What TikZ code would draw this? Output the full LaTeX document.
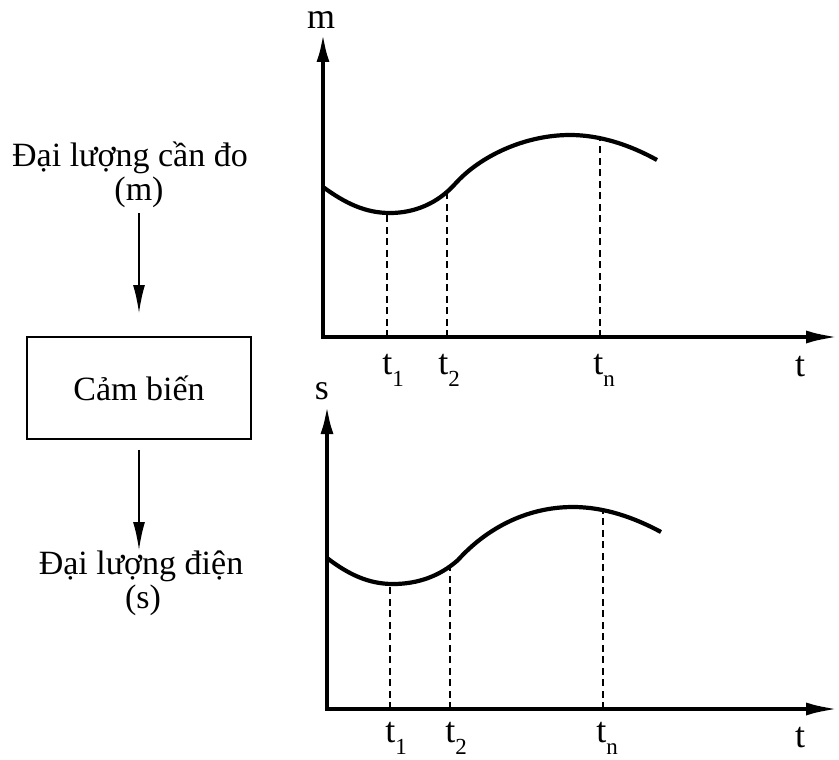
\documentclass[tikz,border=0pt]{standalone}
\usepackage{fontspec}
\setmainfont{Liberation Serif}
\usetikzlibrary{arrows.meta}
\newcommand{\tsub}[1]{t\raisebox{-0.34em}{\fontsize{23}{23}\selectfont #1}}
\begin{document}
\begin{tikzpicture}[x=1pt,y=-1pt,
  lbl/.style={inner sep=0pt,font=\fontsize{34}{40}\selectfont},
  tlbl/.style={inner sep=0pt,font=\fontsize{36}{40}\selectfont},
  axis/.style={line width=4.2pt,{Latex[length=29pt,width=13pt]}-{Latex[length=33pt,width=13pt]}},
  curve/.style={line width=4.2pt},
  guide/.style={line width=1.8pt,dash pattern=on 7pt off 4.5pt},
  flow/.style={line width=1.7pt,-{Latex[length=28pt,width=12pt]}},
  boxnode/.style={draw,line width=1.8pt,minimum width=224pt,minimum height=102pt,inner sep=0pt,font=\fontsize{34}{40}\selectfont}]
\useasboundingbox (0,0) rectangle (839,760);
% left side
\node[lbl] (in1) at (130,158) {Đại lượng cần đo};
\node[lbl] (in2) at (139,192) {(m)};
\node[boxnode] (box) at (139,388) {Cảm biến\hspace{18pt}};
\node[lbl] (out1) at (141,566) {Đại lượng điện};
\node[lbl] (out2) at (143,600) {(s)};
\coordinate (a1s) at (139,213);
\coordinate (a1e) at (139,313);
\coordinate (a2s) at (139,450);
\coordinate (a2e) at (139,550);
\draw[flow] (a1s) -- (a1e);
\draw[flow] (a2s) -- (a2e);
% top graph
\coordinate (o1) at (323,337);
\coordinate (ytop1) at (323,33);
\coordinate (xend1) at (839,337);
\draw[axis] (ytop1) -- (o1) -- (xend1);
\node[tlbl] (m) at (321,20) {m};
\draw[curve] (323,187) .. controls (345,203) and (365,213) .. (390,213)
  .. controls (415,213) and (438,203) .. (455,184)
  .. controls (480,156) and (525,135) .. (570,135)
  .. controls (600,135) and (630,145) .. (657,160);
\draw[guide] (387,337) -- (387,213);
\draw[guide] (447,337) -- (447,192);
\draw[guide] (600,337) -- (600,138);
\node[tlbl] (t11) at (393,370) {\tsub{1}};
\node[tlbl] (t12) at (449,370) {\tsub{2}};
\node[tlbl] (t1n) at (604,370) {\tsub{n}};
\node[tlbl] (t1) at (800,367) {t};
% bottom graph
\coordinate (o2) at (327,709);
\coordinate (ytop2) at (327,405);
\coordinate (xend2) at (839,709);
\draw[axis] (ytop2) -- (o2) -- (xend2);
\node[tlbl] (s) at (322,391) {s};
\draw[curve] (327,558) .. controls (348,574) and (368,584) .. (393,584)
  .. controls (418,584) and (440,576) .. (458,560)
  .. controls (485,530) and (525,507) .. (573,507)
  .. controls (605,507) and (635,518) .. (661,532);
\draw[guide] (390,709) -- (390,584);
\draw[guide] (450,709) -- (450,566);
\draw[guide] (603,709) -- (603,510);
\node[tlbl] (t21) at (396,738) {\tsub{1}};
\node[tlbl] (t22) at (456,738) {\tsub{2}};
\node[tlbl] (t2n) at (607,738) {\tsub{n}};
\node[tlbl] (t2) at (800,738) {t};
\end{tikzpicture}
\end{document}
